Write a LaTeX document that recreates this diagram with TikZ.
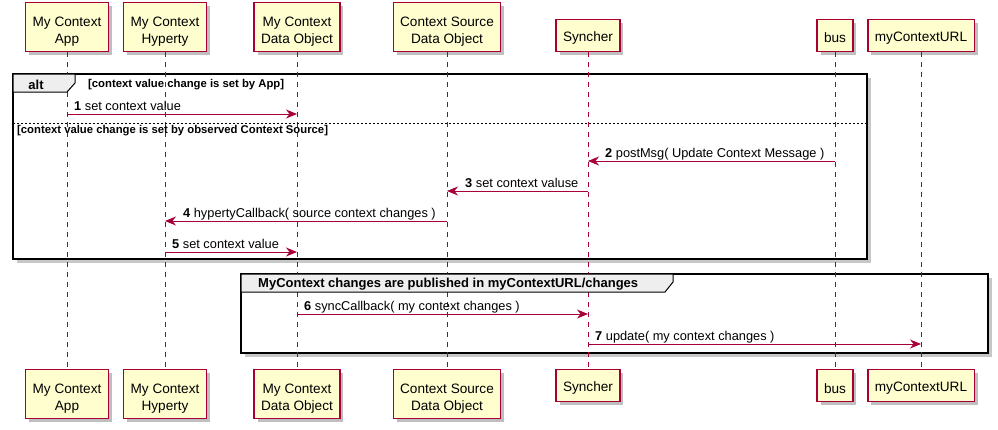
\documentclass[tikz,border=0pt]{standalone}
\usepackage{fontspec}
\setmainfont{Liberation Sans}
\usetikzlibrary{arrows.meta, shadows}
\definecolor{PBorder}{HTML}{A80036}
\definecolor{PFill}{HTML}{FEFECE}
\definecolor{TabGray}{HTML}{EEEEEE}

\begin{document}
\begin{tikzpicture}[x=1pt, y=-1pt,
    part/.style={draw=PBorder, line width=1.2pt, fill=PFill, align=center, inner xsep=7pt, inner ysep=0pt, font=\fontsize{13.6}{17}\selectfont, drop shadow={shadow xshift=3.5pt, shadow yshift=-3.5pt, fill=black, opacity=0.25}},
    two/.style={minimum height=49pt, execute at begin node={\rule{0pt}{36pt}}},
    one/.style={minimum height=32pt, execute at begin node={\rule{0pt}{15pt}}},
    life/.style={PBorder, line width=0.8pt, dash pattern=on 5pt off 5pt},
    msg/.style={PBorder, line width=1pt, -{Stealth[length=11pt, width=9pt, inset=3.5pt]}},
    lbl/.style={anchor=base west, inner sep=0pt, font=\fontsize{12.8}{15}\selectfont},
    grp/.style={draw=black, line width=1.6pt, fill=white, drop shadow={shadow xshift=4pt, shadow yshift=-4pt, fill=black, opacity=0.22}},
    tab/.style={draw=black, line width=1pt, fill=TabGray},
    guard/.style={anchor=base west, inner sep=0pt, font=\bfseries\fontsize{11.3}{13}\selectfont},
    title/.style={inner sep=0pt, font=\bfseries\fontsize{13}{15}\selectfont}]
    \useasboundingbox (0,0) rectangle (998,429);

    % Group frames
    \draw[grp] (13,74) rectangle (867,259);
    \draw[grp] (241,274) rectangle (988,353);

    % Participants (top)
    \node[part, two, anchor=south] (App) at (67,52) {My Context\\App};
    \node[part, two, anchor=south] (Hyp) at (165,52) {My Context\\Hyperty};
    \node[part, two, anchor=south] (MDO) at (297,52) {My Context\\Data Object};
    \node[part, two, anchor=south] (CSO) at (447,52) {Context Source\\Data Object};
    \node[part, one, anchor=south] (Syn) at (588,52) {Syncher};
    \node[part, one, anchor=south] (Bus) at (835,52) {bus};
    \node[part, one, anchor=south] (URL) at (921,52) {myContextURL};

    % Participants (bottom)
    \node[part, two, anchor=north] (AppB) at (67,369) {My Context\\App};
    \node[part, two, anchor=north] (HypB) at (165,369) {My Context\\Hyperty};
    \node[part, two, anchor=north] (MDOB) at (297,369) {My Context\\Data Object};
    \node[part, two, anchor=north] (CSOB) at (447,369) {Context Source\\Data Object};
    \node[part, one, anchor=north] (SynB) at (588,369) {Syncher};
    \node[part, one, anchor=north] (BusB) at (835,369) {bus};
    \node[part, one, anchor=north] (URLB) at (921,369) {myContextURL};

    % Lifelines
    \foreach \p in {App, Hyp, MDO, CSO, Syn, Bus, URL}
        \draw[life] (\p.south) -- (\p B.north);

    % Tabs
    \draw[tab] (13,74) -- (75,74) -- (75,83) -- (67,92) -- (13,92) -- cycle;
    \node[title, anchor=base] (altT) at (36,89) {alt};
    \node[guard] (g1) at (88,87) {[context value change is set by App]};
    \draw[black, line width=0.6pt, dash pattern=on 2pt off 2pt] (13,123) -- (867,123);
    \node[guard] (g2) at (17,133) {[context value change is set by observed Context Source]};

    \draw[tab] (241,274) -- (673,274) -- (673,282) -- (665,292) -- (241,292) -- cycle;
    \node[title, anchor=base west] (pubT) at (258,287) {MyContext changes are published in myContextURL/changes};

    % Messages
    \coordinate (m1) at (0,114);
    \coordinate (m2) at (0,161);
    \coordinate (m3) at (0,191);
    \coordinate (m4) at (0,221);
    \coordinate (m5) at (0,252);
    \coordinate (m6) at (0,314);
    \coordinate (m7) at (0,344);

    \draw[msg] (App |- m1) -- (MDO |- m1);
    \node[lbl] at ([xshift=7pt, yshift=4pt]App |- m1) {\textbf{1} set context value};

    \draw[msg] (Bus |- m2) -- (Syn |- m2);
    \node[lbl] at ([xshift=17pt, yshift=4pt]Syn |- m2) {\textbf{2} postMsg( Update Context Message )};

    \draw[msg] (Syn |- m3) -- (CSO |- m3);
    \node[lbl] at ([xshift=18pt, yshift=4pt]CSO |- m3) {\textbf{3} set context valuse};

    \draw[msg] (CSO |- m4) -- (Hyp |- m4);
    \node[lbl] at ([xshift=18pt, yshift=4pt]Hyp |- m4) {\textbf{4} hypertyCallback( source context changes )};

    \draw[msg] (Hyp |- m5) -- (MDO |- m5);
    \node[lbl] at ([xshift=7pt, yshift=4pt]Hyp |- m5) {\textbf{5} set context value};

    \draw[msg] (MDO |- m6) -- (Syn |- m6);
    \node[lbl] at ([xshift=7pt, yshift=4pt]MDO |- m6) {\textbf{6} syncCallback( my context changes )};

    \draw[msg] (Syn |- m7) -- (URL |- m7);
    \node[lbl] at ([xshift=7pt, yshift=4pt]Syn |- m7) {\textbf{7} update( my context changes )};
\end{tikzpicture}
\end{document}
